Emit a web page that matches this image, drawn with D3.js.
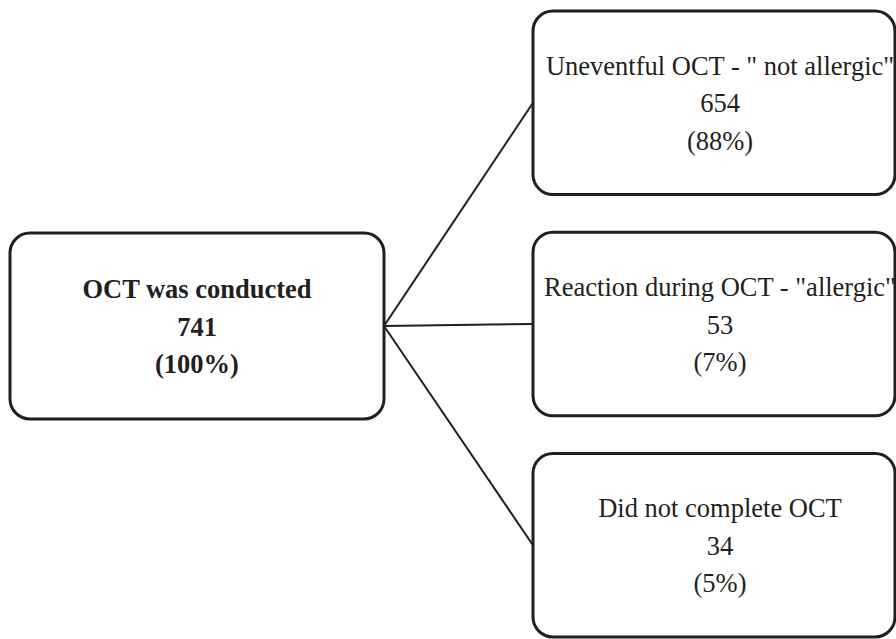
<!DOCTYPE html>
<html>
<head>
<meta charset="utf-8">
<script src="https://cdn.jsdelivr.net/npm/d3@7"></script>
<style>
  html, body { margin: 0; padding: 0; background: #fff; }
  svg text { font-family: "Liberation Serif", "Times New Roman", serif; fill: #231f20; }
</style>
</head>
<body>
<svg id="chart"></svg>
<script>
// source node
const rootLabel = "OCT was conducted";
const rootCount = 741;
const rootPercent = "100%";

// outcome nodes
const outcomeLabels = [
  "Uneventful OCT - \" not allergic\"",
  "Reaction during OCT - \"allergic\"",
  "Did not complete OCT"
];
const outcomeCounts = [654, 53, 34];
const outcomePercents = ["88%", "7%", "5%"];

const width = 896;
const height = 639;
const ink = "#231f20";

const svg = d3.select('#chart')
  .attr('width', width)
  .attr('height', height);

// layout
const root = { x: 10, y: 233, w: 374, h: 186 };
const outX = 533, outW = 362;

const yBand = d3.scaleBand()
  .domain(d3.range(outcomeLabels.length))
  .range([11, 637])
  .paddingInner(0.17);

const outcomes = outcomeLabels.map((label, i) => ({
  label: label,
  count: outcomeCounts[i],
  percent: outcomePercents[i],
  x: outX,
  y: yBand(i),
  w: outW,
  h: yBand.bandwidth()
}));

// connector lines
const srcX = root.x + root.w;
const srcY = root.y + root.h / 2;

svg.selectAll('.link')
  .data(outcomes)
  .enter()
  .append('line')
  .attr('class', 'link')
  .attr('x1', srcX)
  .attr('y1', srcY)
  .attr('x2', d => d.x)
  .attr('y2', d => d.y + d.h / 2)
  .style('stroke', ink)
  .style('stroke-width', 2);

function drawNode(g, d, bold) {
  g.append('rect')
    .attr('x', d.x)
    .attr('y', d.y)
    .attr('width', d.w)
    .attr('height', d.h)
    .attr('rx', 20)
    .attr('ry', 20)
    .style('fill', '#fff')
    .style('stroke', ink)
    .style('stroke-width', 3);

  const cx = d.x + d.w / 2 + (bold ? 0 : 6);
  const cy = d.y + d.h / 2;
  const lines = [d.label, String(d.count), '(' + d.percent + ')'];

  g.selectAll('text')
    .data(lines)
    .enter()
    .append('text')
    .attr('x', cx)
    .attr('y', (t, i) => cy + (i - 1) * 37.5)
    .attr('dy', '0.36em')
    .attr('text-anchor', 'middle')
    .style('font-size', '26.5px')
    .style('font-weight', bold ? 'bold' : 'normal')
    .text(t => t);
}

drawNode(svg.append('g'), {
  label: rootLabel, count: rootCount, percent: rootPercent,
  x: root.x, y: root.y, w: root.w, h: root.h
}, true);

outcomes.forEach(d => drawNode(svg.append('g'), d, false));
</script>
</body>
</html>
